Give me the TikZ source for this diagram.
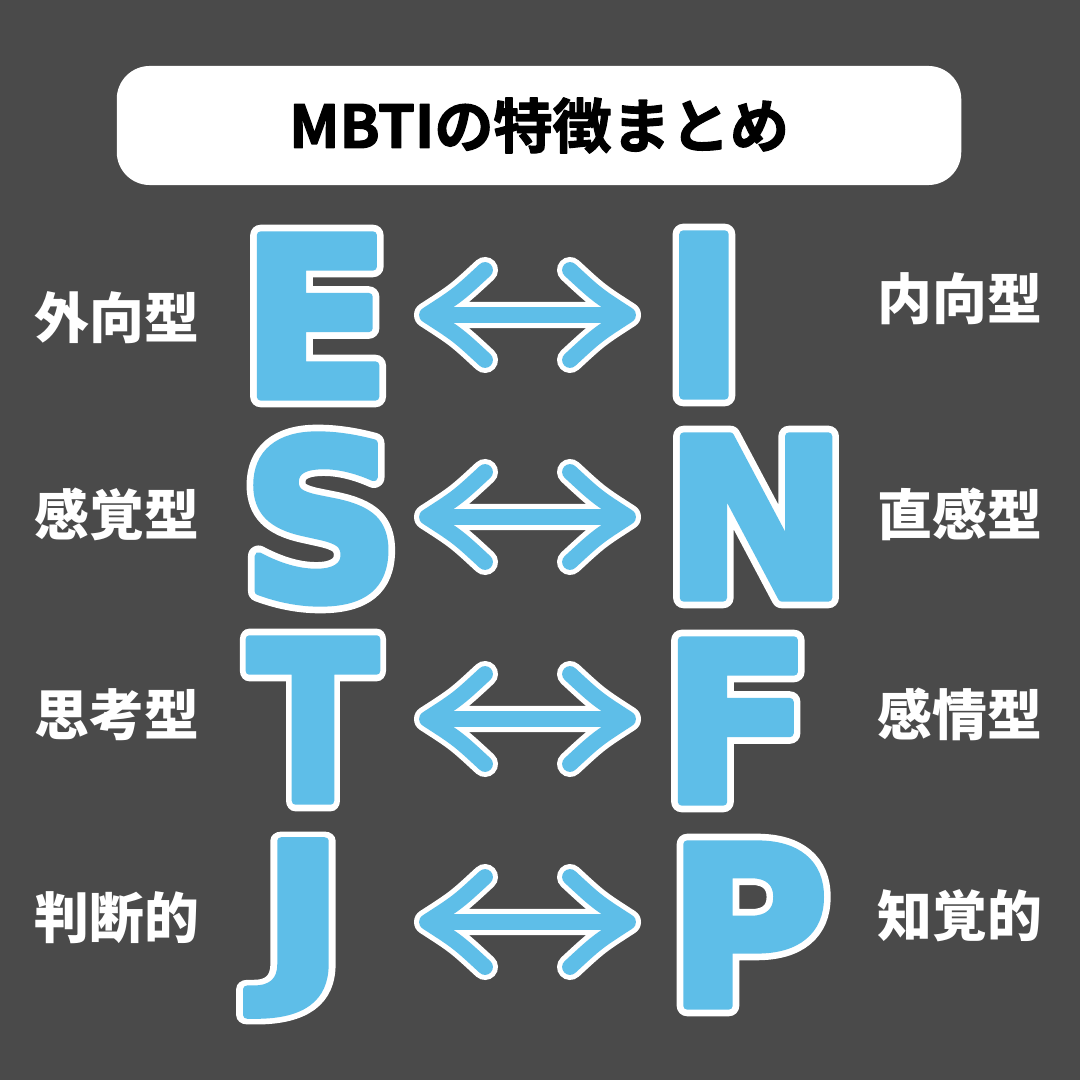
\documentclass[tikz,border=0pt]{standalone}
\usepackage{fontspec}
\usepackage{graphicx}
\usetikzlibrary{calc,positioning}

\newfontfamily\jpfont{Noto Sans CJK JP}
\newfontfamily\jpheavy{Noto Sans CJK JP Bold}[FakeBold=2]
\newfontfamily\letterfont{DejaVu Sans Bold}[FakeBold=3.5]
\newfontfamily\letteredge{DejaVu Sans Bold}[FakeBold=9.5]
\definecolor{mbtibg}{HTML}{4A4A4A}
\definecolor{mbtiblue}{HTML}{5EBEE8}
\newcommand{\mbtiletter}[1]{\rlap{\color{white}\letteredge #1}#1}

\tikzset{
	letter/.style={inner sep=0pt, text=mbtiblue, line join=round, font=\letterfont\fontsize{63}{63}\selectfont},
	typelabel/.style={inner sep=0pt, text=white, font=\jpfont\bfseries\fontsize{15.6}{16}\selectfont},
	headbox/.style={fill=white, rounded corners=0.33cm, minimum width=8.44cm, minimum height=1.19cm, line join=round, font=\jpheavy\fontsize{16.8}{17}\selectfont},
	twoway/.style={draw=mbtiblue, line width=4.5pt, line cap=round, line join=round, preaction={draw=white, line width=7.4pt, line cap=round, line join=round}},
}

\begin{document}
\begin{tikzpicture}[x=0.01cm, y=-0.01cm]
	\fill[mbtibg] (0,0) rectangle (1080,1080);
	\useasboundingbox (0,0) rectangle (1080,1080);
	
	\node[headbox] (title) at (539,125.5) {MBTIの特徴まとめ};
	
	% left column
	\node[letter] (E) at (316,316) {\mbtiletter{E}};
	\node[letter] (S) at (321,519) {\mbtiletter{S}};
	\node[letter] (T) at (313,720) {\scalebox{0.86}[1]{\mbtiletter{T}}};
	\node[letter] (J) at (303,928) {\scalebox{1.04}[0.85]{\mbtiletter{J}}};
	
	\node[typelabel] (E-lab) at (117,318) {外向型};
	\node[typelabel] (S-lab) at (117,514) {感覚型};
	\node[typelabel] (T-lab) at (117,715) {思考型};
	\node[typelabel] (J-lab) at (117,918) {判断的};
	
	% right column
	\node[letter] (I) at (704,315) {\mbtiletter{I}};
	\node[letter] (N) at (756,517) {\mbtiletter{N}};
	\node[letter] (F) at (737,721) {\mbtiletter{F}};
	\node[letter] (P) at (748,925) {\mbtiletter{P}};
	
	\node[typelabel] (I-lab) at (960,299) {内向型};
	\node[typelabel] (N-lab) at (960,514) {直感型};
	\node[typelabel] (F-lab) at (960,714) {感情型};
	\node[typelabel] (P-lab) at (960,916) {知覚的};
	
	% two-way arrows
	\coordinate (ei-l) at (427,315);
	\coordinate (ei-r) at (628,315);
	\coordinate (sn-l) at (427,517);
	\coordinate (sn-r) at (628,517);
	\coordinate (tf-l) at (427,719);
	\coordinate (tf-r) at (628,719);
	\coordinate (jp-l) at (427,922);
	\coordinate (jp-r) at (628,922);
	
	\draw[twoway] (ei-l) -- (ei-r)
		(ei-l) ++(58,-45) .. controls +(-27,25) .. (ei-l) .. controls +(31,20) .. +(58,45)
		(ei-r) ++(-58,-45) .. controls +(27,25) .. (ei-r) .. controls +(-31,20) .. +(-58,45);
	\draw[twoway] (sn-l) -- (sn-r)
		(sn-l) ++(58,-45) .. controls +(-27,25) .. (sn-l) .. controls +(31,20) .. +(58,45)
		(sn-r) ++(-58,-45) .. controls +(27,25) .. (sn-r) .. controls +(-31,20) .. +(-58,45);
	\draw[twoway] (tf-l) -- (tf-r)
		(tf-l) ++(58,-45) .. controls +(-27,25) .. (tf-l) .. controls +(31,20) .. +(58,45)
		(tf-r) ++(-58,-45) .. controls +(27,25) .. (tf-r) .. controls +(-31,20) .. +(-58,45);
	\draw[twoway] (jp-l) -- (jp-r)
		(jp-l) ++(58,-45) .. controls +(-27,25) .. (jp-l) .. controls +(31,20) .. +(58,45)
		(jp-r) ++(-58,-45) .. controls +(27,25) .. (jp-r) .. controls +(-31,20) .. +(-58,45);
\end{tikzpicture}
\end{document}
